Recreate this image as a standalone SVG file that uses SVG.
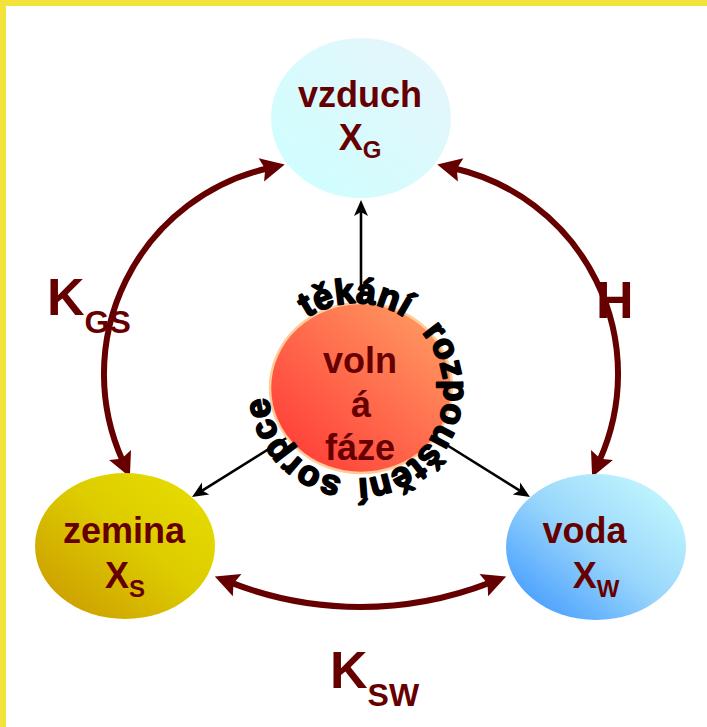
<svg xmlns="http://www.w3.org/2000/svg" xmlns:xlink="http://www.w3.org/1999/xlink" width="707" height="727" viewBox="0 0 707 727">
<style>
.lbl{font-family:"Liberation Sans",Arial,sans-serif;font-weight:bold;fill:#660000}
.nt{font-size:36px;text-anchor:middle}
.arc{fill:none;stroke:#660000;stroke-width:6;marker-start:url(#mh);marker-end:url(#mh)}
.blk{fill:none;stroke:#000;stroke-width:2.6;marker-end:url(#bh)}
.wa{font-family:"Liberation Sans",Arial,sans-serif;font-weight:bold;font-size:35px;fill:#000;stroke:#000;stroke-width:2;stroke-linejoin:round}
</style>
<defs>
<linearGradient id="gAir" x1="1" y1="0" x2="0" y2="1"><stop offset="0" stop-color="#e8f5fa"/><stop offset="1" stop-color="#ccffff"/></linearGradient>
<linearGradient id="gSoil" x1="1" y1="0" x2="0" y2="1"><stop offset="0" stop-color="#e8e000"/><stop offset="0.45" stop-color="#ddcc00"/><stop offset="1" stop-color="#c99500"/></linearGradient>
<linearGradient id="gWater" x1="1" y1="0" x2="0" y2="1"><stop offset="0" stop-color="#ccffff"/><stop offset="0.5" stop-color="#99d6fb"/><stop offset="1" stop-color="#3390ff"/></linearGradient>
<linearGradient id="gFree" x1="1" y1="0" x2="0" y2="1"><stop offset="0" stop-color="#ffa366"/><stop offset="1" stop-color="#ff3333"/></linearGradient>
<marker id="mh" markerUnits="userSpaceOnUse" viewBox="-30 -30 60 60" markerWidth="60" markerHeight="60" refX="0" refY="0" orient="auto-start-reverse">
<path d="M-6,-12 L18,0 L-6,12 L-2,0 Z" fill="#660000"/>
</marker>
<marker id="bh" markerUnits="userSpaceOnUse" viewBox="-20 -20 40 40" markerWidth="40" markerHeight="40" refX="0" refY="0" orient="auto">
<path d="M-4,-7 L12,0 L-4,7 L0,0 Z" fill="#000"/>
</marker>
<path id="ring" d="M356,479 A88,88 0 0 1 356,303 A88,88 0 0 1 356,479 Z"/>
</defs>
<rect width="707" height="727" fill="#fff"/>
<rect x="0" y="0" width="707" height="6" fill="#f4e23c"/>
<rect x="0" y="0" width="6" height="727" fill="#f4e23c"/>

<g id="connectors">
<path class="arc" d="M267.2,168.5 A211,211 0 0 0 122.5,460.5"/>
<path class="arc" d="M454.8,168.5 A211,211 0 0 1 599.5,460.5"/>
<path class="arc" d="M231.6,582.9 A357,357 0 0 0 489.4,582.9"/>
<path class="blk" d="M361,303 L361,212"/>
<path class="blk" d="M288,437 L202.2,490.6"/>
<path class="blk" d="M434,437 L519.8,490.6"/>
</g>

<g id="node-vzduch">
<ellipse cx="361" cy="118" rx="90" ry="80" fill="url(#gAir)"/>
<text class="lbl nt" x="360" y="107">vzduch</text>
<text class="lbl nt" x="360" y="150">X<tspan font-size="24" dy="8">G</tspan></text>
</g>

<g id="node-zemina">
<ellipse cx="125" cy="546" rx="90" ry="73" fill="url(#gSoil)"/>
<text class="lbl nt" x="124" y="543">zemina</text>
<text class="lbl nt" x="125" y="588">X<tspan font-size="24" dy="9">S</tspan></text>
</g>

<g id="node-voda">
<ellipse cx="596" cy="547" rx="90" ry="73" fill="url(#gWater)"/>
<text class="lbl nt" x="584.5" y="543">voda</text>
<text class="lbl nt" x="596" y="588">X<tspan font-size="24" dy="9">W</tspan></text>
</g>

<g id="node-volna-faze">
<ellipse cx="361" cy="388" rx="91" ry="85" fill="url(#gFree)" stroke="#ffcc99" stroke-width="2.5"/>
<text class="lbl nt" x="360" y="373">voln</text>
<text class="lbl nt" x="361" y="417">á</text>
<text class="lbl nt" x="360" y="460">fáze</text>
</g>

<g id="process-labels">
<text class="wa"><textPath xlink:href="#ring" href="#ring" startOffset="14" textLength="118" lengthAdjust="spacing">sorpce</textPath></text>
<text class="wa"><textPath xlink:href="#ring" href="#ring" startOffset="224" textLength="103" lengthAdjust="spacing">těkání</textPath></text>
<text class="wa"><textPath xlink:href="#ring" href="#ring" startOffset="350" textLength="200" lengthAdjust="spacing">rozpouštění</textPath></text>
</g>

<g id="edge-labels">
<text class="lbl" x="47" y="315" font-size="52">K<tspan font-size="32" dy="18">GS</tspan></text>
<text class="lbl" x="596" y="318" font-size="52">H</text>
<text class="lbl" x="330" y="688" font-size="52">K<tspan font-size="32" dy="18">SW</tspan></text>
</g>
</svg>
